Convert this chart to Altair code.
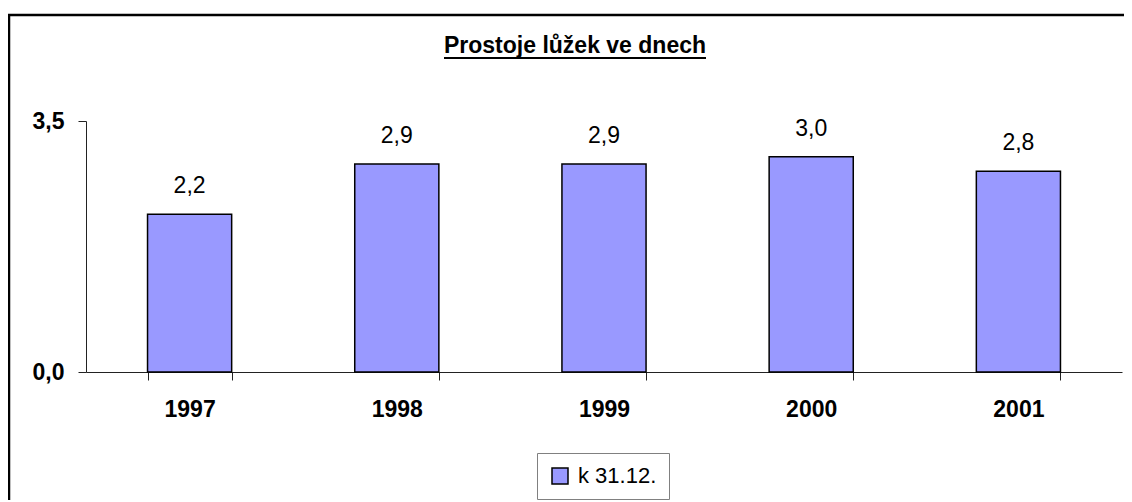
import altair as alt
import pandas as pd

years = ["1997", "1998", "1999", "2000", "2001"]
values = [2.2, 2.9, 2.9, 3.0, 2.8]
series_name = "k 31.12."
title_text = "Prostoje lůžek ve dnech"

df = pd.DataFrame({"year": years, "value": values, "series": [series_name] * len(years)})

FONT = "Liberation Sans"
W, H = 1036, 251

x_enc = alt.X(
    "year:N",
    sort=years,
    title=None,
    scale=alt.Scale(paddingInner=0.594, paddingOuter=0.297),
    axis=alt.Axis(
        labelAngle=0,
        labelFont=FONT,
        labelFontSize=23,
        labelFontWeight="bold",
        labelColor="black",
        labelPadding=18,
        tickBand="extent",
        tickSize=8,
        tickColor="#222222",
        domainColor="#222222",
        grid=False,
    ),
)
y_enc = alt.Y(
    "value:Q",
    title=None,
    scale=alt.Scale(domain=[0, 3.5], nice=False, zero=True),
    axis=alt.Axis(
        values=[0, 3.5],
        labelExpr="replace(format(datum.value, '.1f'), '.', ',')",
        labelFont=FONT,
        labelFontSize=23,
        labelFontWeight="bold",
        labelColor="black",
        labelPadding=14,
        tickSize=8,
        tickColor="#222222",
        domainColor="#222222",
        grid=False,
    ),
)

base = alt.Chart(df).encode(x=x_enc, y=y_enc)

bars = base.mark_bar(stroke="black", strokeWidth=1.5).encode(
    fill=alt.Fill(
        "series:N",
        scale=alt.Scale(domain=[series_name], range=["#9999FF"]),
        legend=alt.Legend(
            title=None,
            orient="none",
            legendX=451,
            legendY=332,
            padding=12,
            strokeColor="#808080",
            fillColor="white",
            cornerRadius=0,
            symbolType="square",
            symbolSize=256,
            symbolStrokeColor="black",
            symbolStrokeWidth=1.5,
            labelFont=FONT,
            labelFontSize=22,
            labelColor="black",
            labelOffset=7,
        ),
    ),
)

labels = base.transform_calculate(
    lbl="replace(format(datum.value, '.1f'), '.', ',')"
).mark_text(font=FONT, fontSize=23, color="black", baseline="alphabetic", dy=-21).encode(
    text="lbl:N",
)

one = alt.Data(values=[{"k": 1}])

title = alt.Chart(one).mark_text(
    text=title_text, font=FONT, fontSize=23, fontWeight="bold", color="black",
    baseline="alphabetic", align="center",
).encode(x=alt.value(489), y=alt.value(-68))

underline = alt.Chart(one).mark_rule(color="black", strokeWidth=2).encode(
    x=alt.value(489 - 131), x2=alt.value(489 + 131), y=alt.value(-63)
)

frame = alt.Chart(one).mark_rect(fill=None, stroke="black", strokeWidth=2.5).encode(
    x=alt.value(-77), x2=alt.value(1200), y=alt.value(-106), y2=alt.value(600)
)

chart = alt.layer(bars, labels, frame, title, underline).properties(
    width=W,
    height=H,
    autosize=alt.AutoSizeParams(type="none"),
    padding={"left": 78, "top": 113, "right": 2, "bottom": 128},
).configure(
    background="white",
    view=alt.ViewConfig(stroke="transparent", strokeWidth=0),
    axis=alt.AxisConfig(grid=False),
)

chart.save("out.html", embed_options={"renderer": "svg", "actions": False})
